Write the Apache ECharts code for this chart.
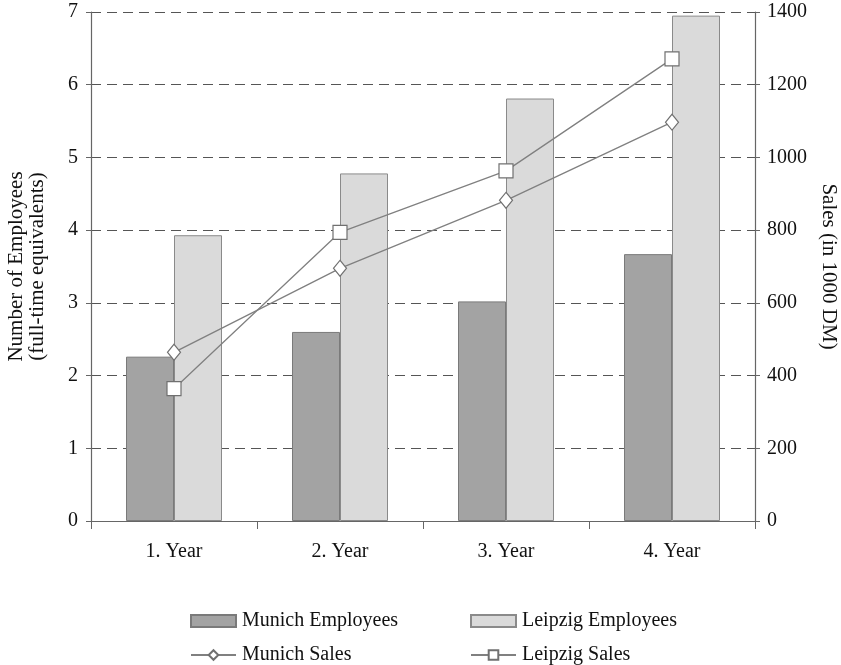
<!DOCTYPE html>
<html><head><meta charset="utf-8">
<script src="https://cdn.jsdelivr.net/npm/echarts@6/dist/echarts.min.js"></script>
<style>html,body{margin:0;padding:0;background:#fff}#c{width:841px;height:665px}</style>
</head><body><div id="c"></div>
<script>
const categories = ['1. Year', '2. Year', '3. Year', '4. Year'];
const munichEmployees = [2.26, 2.60, 3.02, 3.67];
const leipzigEmployees = [3.93, 4.78, 5.81, 6.95];
const munichSales = [464, 695, 882, 1097];
const leipzigSales = [364, 794, 963, 1271];

const font = 'Liberation Serif';
const txt = {fontFamily: font, fontSize: 20, color: '#111'};
const chart = echarts.init(document.getElementById('c'));
const legendBase = {orient: 'horizontal', itemWidth: 45, itemHeight: 12, itemGap: 0,
  textStyle: Object.assign({}, txt, {padding: [0, 0, 0, 1]})};
chart.setOption({
  animation: false,
  backgroundColor: '#fff',
  grid: {left: 91, right: 86, top: 12, bottom: 144, containLabel: false, outerBoundsMode: 'none'},
  legend: [
    Object.assign({}, legendBase, {data: [{name: 'Munich Employees', icon: 'rect'}], left: 185, top: 606}),
    Object.assign({}, legendBase, {data: [{name: 'Leipzig Employees', icon: 'rect'}], left: 465, top: 606}),
    Object.assign({}, legendBase, {data: ['Munich Sales'], left: 185, top: 640}),
    Object.assign({}, legendBase, {data: ['Leipzig Sales'], left: 465, top: 640})
  ],
  xAxis: {
    type: 'category', data: categories,
    axisLine: {lineStyle: {color: '#666', width: 1.2}},
    axisTick: {show: true, inside: false, length: 8, lineStyle: {color: '#666'}},
    axisLabel: Object.assign({}, txt, {margin: 21})
  },
  yAxis: [
    {
      type: 'value', min: 0, max: 7, interval: 1,
      name: 'Number of Employees\n(full-time equivalents)', nameLocation: 'middle', nameGap: 43,
      nameTextStyle: Object.assign({}, txt, {fontSize: 21, lineHeight: 21}),
      axisLine: {show: true, lineStyle: {color: '#666', width: 1.2}},
      axisTick: {show: true, length: 5, lineStyle: {color: '#666'}},
      axisLabel: Object.assign({}, txt, {margin: 13}),
      splitLine: {show: true, lineStyle: {color: '#555', type: [10, 6], width: 1.2}}
    },
    {
      type: 'value', min: 0, max: 1400, interval: 200, position: 'right',
      name: 'Sales (in 1000 DM)', nameLocation: 'middle', nameGap: 63, nameRotate: -90,
      nameTextStyle: Object.assign({}, txt, {fontSize: 21}),
      axisLine: {show: true, lineStyle: {color: '#666', width: 1.2}},
      axisTick: {show: true, length: 5, lineStyle: {color: '#666'}},
      axisLabel: Object.assign({}, txt, {margin: 12, formatter: v => String(v)}),
      splitLine: {show: false}
    }
  ],
  series: [
    {name: 'Munich Employees', type: 'bar', data: munichEmployees, barWidth: 48, barGap: '0%',
     itemStyle: {color: '#a3a3a3', borderColor: '#7a7a7a', borderWidth: 1}},
    {name: 'Leipzig Employees', type: 'bar', data: leipzigEmployees, barWidth: 48, barGap: '0%',
     itemStyle: {color: '#dadada', borderColor: '#8a8a8a', borderWidth: 1}},
    {name: 'Munich Sales', type: 'line', yAxisIndex: 1, data: munichSales,
     symbol: 'diamond', symbolSize: [13, 16],
     lineStyle: {color: '#808080', width: 1.3},
     itemStyle: {color: '#fff', borderColor: '#707070', borderWidth: 1.2}},
    {name: 'Leipzig Sales', type: 'line', yAxisIndex: 1, data: leipzigSales,
     symbol: 'rect', symbolSize: 14,
     lineStyle: {color: '#808080', width: 1.3},
     itemStyle: {color: '#fff', borderColor: '#707070', borderWidth: 1.2}}
  ]
});
</script></body></html>
